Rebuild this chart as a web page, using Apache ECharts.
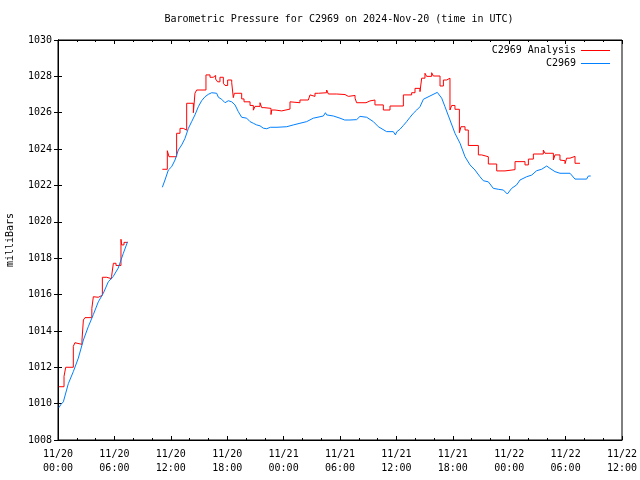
<!DOCTYPE html>
<html>
<head>
<meta charset="utf-8">
<script src="https://cdn.jsdelivr.net/npm/echarts@6/dist/echarts.min.js"></script>
<style>html,body{margin:0;padding:0;background:#fff}#c{width:640px;height:480px}</style>
</head>
<body>
<div id="c"></div>
<script>
// hours since 2024-11-20 00:00 UTC; null marks the data gap
const analysisHours = [0.10,0.64,0.82,1.63,1.80,2.00,2.55,2.70,2.87,3.60,3.76,3.94,4.29,4.72,5.18,5.70,5.89,6.17,6.70,6.77,7.02,7.41,
  7.42,
  11.10,11.63,11.81,12.62,12.98,13.33,13.69,14.40,14.57,14.75,15.74,16.17,16.52,16.77,16.98,17.23,17.59,17.77,18.05,18.48,18.65,18.76,19.54,19.79,20.43,20.78,20.96,21.49,21.67,21.91,22.66,22.73,23.09,23.79,24.68,24.86,25.74,26.63,26.81,26.99,27.34,27.70,28.58,28.76,29.65,30.53,30.89,31.60,31.77,32.77,33.19,33.72,34.61,35.32,36.74,37.62,37.98,38.51,38.69,39.04,39.22,39.75,39.93,40.64,41.00,41.35,41.70,41.88,42.23,42.70,42.87,43.30,43.65,44.72,45.07,45.78,46.67,47.55,48.62,49.68,50.04,50.57,51.63,51.81,52.70,52.87,53.40,53.58,53.94,54.11,54.47,55.00,55.53];
const analysisPressure = [1010.93,1011.50,1012.00,1013.15,1013.35,1013.26,1013.50,1014.60,1014.73,1015.24,1015.88,1015.85,1015.96,1016.95,1016.87,1017.00,1017.72,1017.60,1019.04,1018.73,1018.87,1018.87,
  null,
  1022.89,1023.91,1023.58,1024.87,1025.14,1025.04,1026.52,1026.00,1027.07,1027.25,1028.08,1027.95,1028.05,1027.85,1027.70,1027.95,1027.62,1027.50,1027.80,1027.65,1026.83,1027.07,1026.76,1026.60,1026.40,1026.14,1026.35,1026.55,1026.28,1026.24,1025.90,1026.15,1026.10,1026.20,1026.60,1026.55,1026.70,1026.80,1026.98,1026.90,1027.07,1027.10,1027.25,1027.03,1027.00,1026.90,1026.95,1026.80,1026.55,1026.65,1026.70,1026.43,1026.15,1026.37,1026.98,1027.10,1027.34,1027.16,1027.90,1028.17,1028.00,1028.20,1028.02,1027.47,1027.80,1027.90,1026.15,1026.40,1026.19,1024.90,1025.23,1025.05,1024.20,1023.68,1023.58,1023.18,1022.80,1022.87,1023.31,1023.13,1023.45,1023.73,1023.95,1023.77,1023.40,1023.68,1023.40,1023.36,1023.20,1023.50,1023.60,1023.22,1023.22];

const stationHours = [0.10,0.30,0.57,1.10,1.63,2.16,2.70,3.22,3.76,4.29,4.82,5.35,5.88,6.40,6.95,7.40,
  9.00,
  11.10,11.38,11.74,12.09,12.45,12.80,13.16,13.51,13.87,14.22,14.57,14.93,15.28,15.64,15.99,16.35,16.88,17.06,17.41,17.77,18.12,18.48,18.83,19.18,19.54,20.07,20.43,20.78,21.13,21.49,21.84,22.20,22.60,23.30,24.33,25.04,25.74,26.45,27.16,28.23,28.45,28.58,29.30,30.00,30.50,31.06,31.77,32.13,32.84,33.55,34.08,34.96,35.67,35.90,36.03,36.38,36.74,37.09,37.45,37.80,38.16,38.51,38.87,39.57,40.35,40.82,41.17,41.70,42.23,42.77,43.30,43.83,44.36,44.89,45.25,45.78,46.31,46.84,47.38,47.80,48.26,48.79,49.15,49.86,50.39,50.92,51.45,51.99,52.34,52.87,53.40,54.47,55.00,56.24,56.42,56.67];
const stationPressure = [1009.78,1009.95,1010.10,1011.10,1011.76,1012.50,1013.50,1014.23,1014.90,1015.60,1016.07,1016.70,1017.00,1017.45,1018.27,1018.90,
  null,
  1021.90,1022.30,1022.85,1023.03,1023.40,1023.95,1024.23,1024.59,1025.14,1025.51,1025.88,1026.33,1026.66,1026.88,1027.01,1027.10,1027.07,1026.85,1026.74,1026.55,1026.66,1026.60,1026.43,1026.06,1025.75,1025.70,1025.51,1025.42,1025.33,1025.28,1025.15,1025.12,1025.20,1025.20,1025.23,1025.33,1025.42,1025.51,1025.70,1025.82,1026.00,1025.88,1025.82,1025.70,1025.60,1025.60,1025.62,1025.80,1025.75,1025.51,1025.23,1024.96,1024.96,1024.78,1024.95,1025.09,1025.30,1025.51,1025.75,1025.97,1026.15,1026.33,1026.74,1026.92,1027.12,1026.80,1026.33,1025.60,1024.87,1024.32,1023.58,1023.13,1022.85,1022.48,1022.26,1022.20,1021.84,1021.79,1021.75,1021.53,1021.84,1022.03,1022.30,1022.48,1022.57,1022.81,1022.89,1023.07,1022.94,1022.76,1022.67,1022.67,1022.35,1022.35,1022.52,1022.52];

const xTickDates = ['11/20','11/20','11/20','11/20','11/21','11/21','11/21','11/21','11/22','11/22','11/22'];
const xTickTimes = ['00:00','06:00','12:00','18:00','00:00','06:00','12:00','18:00','00:00','06:00','12:00'];

const seriesNames = ['C2969 Analysis', 'C2969'];
const titleText = 'Barometric Pressure for C2969 on 2024-Nov-20 (time in UTC)';
const yAxisName = 'milliBars';

const FONT = 'DejaVu Sans Mono';
function pairs(hs, vs) { return hs.map((h, i) => [h, vs[i] === null ? '-' : vs[i]]); }

const chart = echarts.init(document.getElementById('c'), null, {renderer: 'canvas'});
const xCommon = {
  type: 'value', min: 0, max: 60, interval: 6,
  axisLine: {show: true, lineStyle: {color: '#000', width: 1}},
  axisTick: {show: true, inside: true, length: 4, lineStyle: {color: '#000'}},
  minorTick: {show: true, splitNumber: 3, length: 2, lineStyle: {color: '#000'}},
  splitLine: {show: false}, minorSplitLine: {show: false}
};
const yCommon = {
  type: 'value', min: 1008, max: 1030, interval: 2,
  axisLine: {show: true, lineStyle: {color: '#000', width: 1}},
  axisTick: {show: true, inside: true, length: 4, lineStyle: {color: '#000'}},
  splitLine: {show: false}
};
chart.setOption({
  animation: false,
  backgroundColor: '#fff',
  grid: {left: 58, right: 18, top: 40, bottom: 40, show: true, borderColor: '#000', borderWidth: 1,
    backgroundColor: 'transparent', containLabel: false, outerBoundsMode: 'none'},
  graphic: [{type: 'text', x: 339, y: 19, style: {text: titleText, align: 'center', verticalAlign: 'middle', font: '10px "' + FONT + '"', fill: '#000'}}],
  legend: {
    orient: 'vertical', align: 'right', right: 25, top: 39, itemGap: 0,
    itemWidth: 29, itemHeight: 1, icon: 'rect',
    textStyle: {fontFamily: FONT, fontSize: 10, color: '#000', lineHeight: 13},
    data: seriesNames
  },
  xAxis: [
    Object.assign({}, xCommon, {position: 'bottom',
      axisLabel: {show: true, margin: 7, fontFamily: FONT, fontSize: 10, color: '#000', lineHeight: 14,
        formatter: v => { const i = Math.round(v / 6); return xTickDates[i] + '\n' + xTickTimes[i]; }}}),
    Object.assign({}, xCommon, {position: 'top', axisLabel: {show: false}})
  ],
  yAxis: [
    Object.assign({}, yCommon, {position: 'left', name: yAxisName, nameLocation: 'middle', nameGap: 43, nameRotate: 90,
      nameTextStyle: {fontFamily: FONT, fontSize: 10, color: '#000'},
      axisLabel: {show: true, margin: 6, fontFamily: FONT, fontSize: 10, color: '#000', formatter: v => String(v)}}),
    Object.assign({}, yCommon, {position: 'right', axisLabel: {show: false}})
  ],
  series: [
    {name: seriesNames[0], type: 'line', step: 'end', symbol: 'none', connectNulls: false,
      color: '#ff0000', lineStyle: {color: '#ff0000', width: 1}, data: pairs(analysisHours, analysisPressure)},
    {name: seriesNames[1], type: 'line', symbol: 'none', connectNulls: false,
      color: '#0080ff', lineStyle: {color: '#0080ff', width: 1}, data: pairs(stationHours, stationPressure)}
  ]
});
</script>
</body>
</html>
